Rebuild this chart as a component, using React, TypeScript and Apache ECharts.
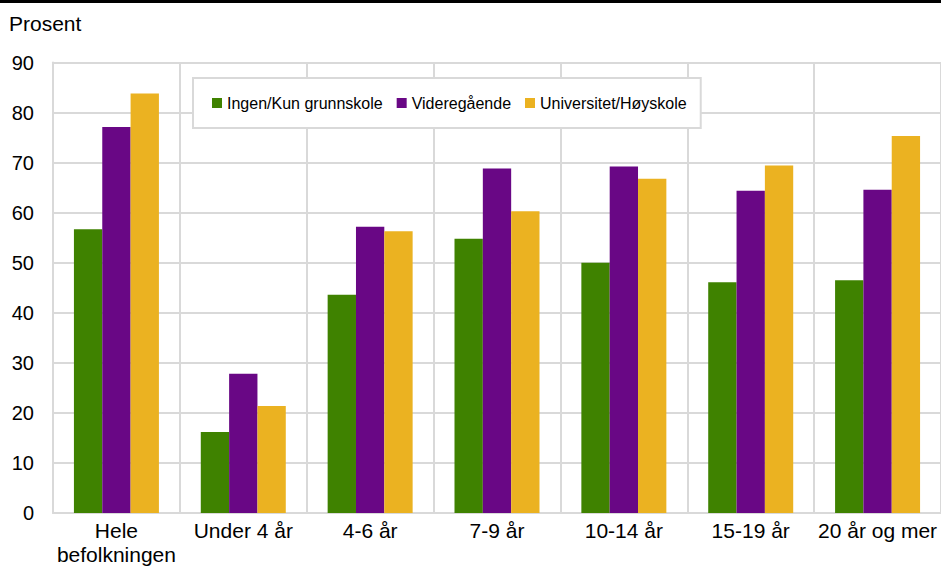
import React, { useEffect, useRef } from "react";
import * as echarts from "echarts";

const categories = ["Hele\nbefolkningen", "Under 4 år", "4-6 år", "7-9 år", "10-14 år", "15-19 år", "20 år og mer"];
const seriesNames = ["Ingen/Kun grunnskole", "Videregående", "Universitet/Høyskole"];
const ingen = [56.7, 16.2, 43.6, 54.8, 50.0, 46.1, 46.5];
const videregaende = [77.1, 27.8, 57.2, 68.8, 69.2, 64.4, 64.6];
const universitet = [83.8, 21.4, 56.3, 60.3, 66.8, 69.4, 75.3];
const colors = ["#3f8200", "#690785", "#ebb221"];

const FONT = "Liberation Sans, Arial, sans-serif";

export default function App() {
  const ref = useRef<HTMLDivElement>(null);
  useEffect(() => {
    if (!ref.current) return;
    const chart = echarts.init(ref.current, undefined, { renderer: "svg" });
    const values = [ingen, videregaende, universitet];
    chart.setOption({
      animation: false,
      backgroundColor: "#fff",
      textStyle: { fontFamily: FONT },
      title: {
        text: "Prosent",
        left: 9,
        top: 13,
        padding: 0,
        textStyle: { fontSize: 21, fontWeight: "normal", color: "#000", fontFamily: FONT },
      },
      graphic: [
        { type: "rect", left: 0, top: 0, shape: { x: 0, y: 0, width: 941, height: 3 }, style: { fill: "#000" } },
      ],
      legend: {
        data: seriesNames,
        left: 193,
        top: 78,
        padding: [17, 14, 17, 19],
        itemWidth: 10,
        itemHeight: 10,
        itemGap: 14,
        icon: "rect",
        backgroundColor: "#fff",
        borderColor: "#d9d9d9",
        borderWidth: 2,
        textStyle: { fontSize: 16, color: "#000", fontFamily: FONT },
      },
      grid: { left: 53, right: 0, top: 62.5, bottom: 51, containLabel: false },
      xAxis: {
        type: "category",
        data: categories,
        axisLine: { show: true, lineStyle: { color: "#d9d9d9", width: 2 } },
        axisTick: { show: false },
        splitLine: { show: true, interval: 0, lineStyle: { color: "#d9d9d9", width: 2 } },
        axisLabel: { fontSize: 21, color: "#000", margin: 5, lineHeight: 24, interval: 0, fontFamily: FONT },
      },
      yAxis: {
        type: "value",
        min: 0,
        max: 90,
        interval: 10,
        axisLine: { show: true, lineStyle: { color: "#d9d9d9", width: 2 } },
        axisTick: { show: false },
        splitLine: { show: true, lineStyle: { color: "#d9d9d9", width: 2 } },
        axisLabel: { fontSize: 20, color: "#000", margin: 19, fontFamily: FONT },
      },
      series: seriesNames.map((name, i) => ({
        name,
        type: "bar",
        data: values[i],
        barGap: "0%",
        barCategoryGap: "33%",
        itemStyle: { color: colors[i] },
      })),
    });
    return () => chart.dispose();
  }, []);
  return <div ref={ref} style={{ position: "absolute", left: 0, top: 0, width: 941, height: 566 }} />;
}
